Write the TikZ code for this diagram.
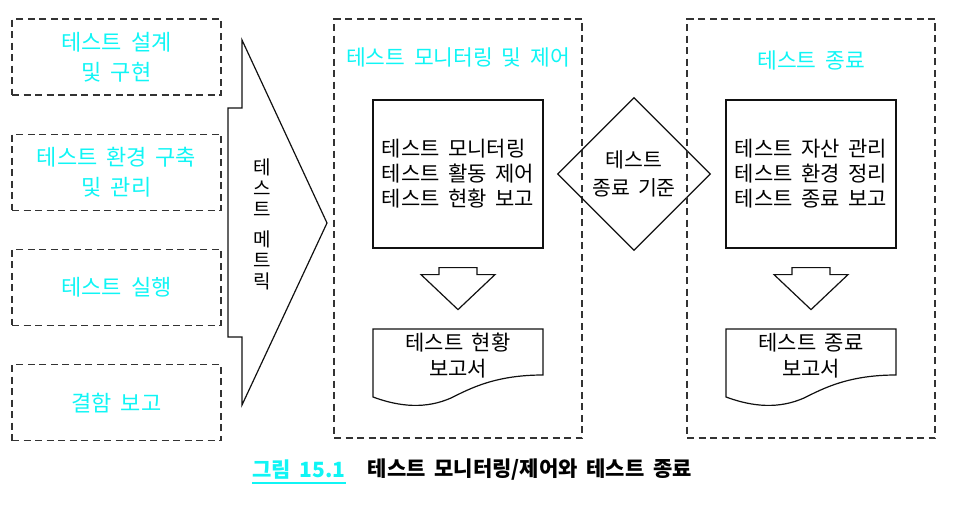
\documentclass[tikz,border=0pt]{standalone}
\usepackage{fontspec}
\setmainfont{Noto Sans CJK KR}[WordSpace=1.8]
\usepackage{xcolor}
\definecolor{cTitle}{HTML}{10F5F5}
\definecolor{cDash}{HTML}{333333}
\definecolor{cLine}{HTML}{111111}
\usepackage{tikz}
\usetikzlibrary{positioning,shapes.geometric,calc}
\tikzset{
  node-task/.style={draw=cDash,line width=1.2pt,dash pattern=on 7pt off 4.5pt,
    minimum width=209pt,minimum height=76pt,align=center,text=cTitle,
    font=\fontsize{22}{30}\selectfont},
  node-group/.style={draw=cDash,line width=1.2pt,dash pattern=on 7pt off 4.5pt,
    minimum width=248pt,minimum height=419pt,inner sep=0pt},
  node-title/.style={text=cTitle,font=\fontsize{21.5}{24}\selectfont},
  node-box/.style={draw=cLine,line width=1.2pt,minimum width=170pt,
    minimum height=148pt,align=left,font=\fontsize{21}{25}\selectfont},
  node-doc/.style={minimum width=170pt,minimum height=46pt,outer sep=0pt},
  node-doc-text/.style={align=center,font=\fontsize{21}{26}\selectfont},
  node-gate/.style={draw=cLine,line width=1.2pt,diamond,minimum size=153pt,
    inner sep=0pt,align=center,font=\fontsize{20.5}{28}\selectfont},
  node-caption/.style={inner sep=0pt,font=\bfseries\fontsize{21}{22}\selectfont},
  shape-line/.style={draw=cLine,line width=1.2pt,line join=miter},
}
% 문서 모양 (아래쪽이 물결)
\newcommand{\docwave}[1]{%
  \draw[shape-line] (#1.north west) -- (#1.north east) -- (#1.south east)
    .. controls +(-47,0) and +(20,-10) .. ++(-92,23)
    .. controls +(-25,11) and +(27,10) .. ++(-78,-1) -- cycle;}
% 아래 방향 블록 화살표
\newcommand{\blockdown}[1]{%
  \draw[shape-line] ([shift={(-19,19)}]#1.south) -- ++(38,0) -- ++(0,7)
    -- ++(18,0) -- ++(-37,35) -- ++(-37,-35) -- ++(18,0) -- cycle;}

\begin{document}
\begin{tikzpicture}[x=1pt,y=-1pt]
  \useasboundingbox (0,0) rectangle (953,506);

  % 왼쪽 활동들
  \node[node-task] (design) at (116.5,57) {테스트 설계\\및 구현};
  \node[node-task,below=38pt of design] (setup) {테스트 환경 구축\\및 관리};
  \node[node-task,below=38pt of setup] (run) {테스트 실행};
  \node[node-task,below=38pt of run] (defect) {결함 보고};

  % 메트릭 화살표
  \draw[shape-line] (228,108) -- (242,108) -- (242,40) -- (327,223)
    -- (242,405) -- (242,337) -- (228,337) -- cycle;
  \node[align=center,font=\fontsize{19}{21}\selectfont] (metric) at (262,224)
    {테\\스\\트\\[9pt]메\\트\\릭};

  % 모니터링 및 제어
  \node[node-group] (ctrl) at (458,228.5) {};
  \node[node-title] (ctrl-title) at (458,57) {테스트 모니터링 및 제어};
  \node[node-box] (ctrl-task) at (458,174)
    {테스트 모니터링\\테스트 활동 제어\\테스트 현황 보고};
  \node[node-doc] (ctrl-doc) at (458,352) {};
  \node[node-doc-text] (ctrl-doc-text) at (458,356) {테스트 현황\\보고서};
  \blockdown{ctrl-task}
  \docwave{ctrl-doc}

  % 종료 기준
  \node[node-gate] (gate) at (634,174) {테스트\\종료 기준};

  % 테스트 종료
  \node[node-group] (close) at (811,228.5) {};
  \node[node-title] (close-title) at (811,60) {테스트 종료};
  \node[node-box] (close-task) at (811,174)
    {테스트 자산 관리\\테스트 환경 정리\\테스트 종료 보고};
  \node[node-doc] (close-doc) at (811,352) {};
  \node[node-doc-text] (close-doc-text) at (811,356) {테스트 종료\\보고서};
  \blockdown{close-task}
  \docwave{close-doc}

  % 그림 설명
  \node[node-caption,text=cTitle] (fig-num) at (299,470) {그림 15.1};
  \node[node-caption,right=22pt of fig-num] (fig-title) {테스트 모니터링/제어와 테스트 종료};
  \draw[cTitle,line width=1.6pt] ([yshift=-3pt]fig-num.south west) -- ([yshift=-3pt]fig-num.south east);
\end{tikzpicture}
\end{document}
